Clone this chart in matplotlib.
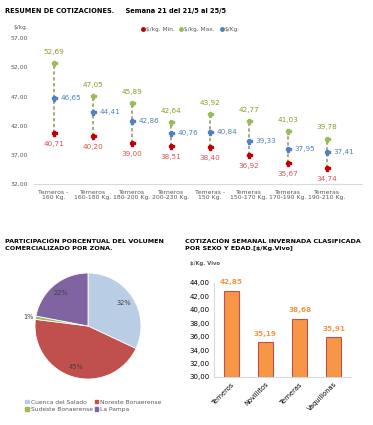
import matplotlib.pyplot as plt
from matplotlib.patches import Patch
from matplotlib.lines import Line2D

# resumen de cotizaciones
categorias = ["Terneros -\n160 Kg.", "Terneros\n160-180 Kg.", "Terneros\n180-200 Kg.",
              "Terneros\n200-230 Kg.", "Temeras -\n150 Kg.", "Temeras\n150-170 Kg.",
              "Temeras\n170-190 Kg.", "Temeras\n190-210 Kg."]
precio_min = [40.71, 40.20, 39.00, 38.51, 38.40, 36.92, 35.67, 34.74]
precio_max = [52.69, 47.05, 45.89, 42.64, 43.92, 42.77, 41.03, 39.78]
precio_prom = [46.65, 44.41, 42.86, 40.76, 40.84, 39.33, 37.95, 37.41]

# participacion por zona
zonas = ["Cuenca del Salado", "Noreste Bonaerense", "Sudeste Bonaerense", "La Pampa"]
porcentajes = [32, 45, 1, 22]
colores_zona = ["#b9cde5", "#c0504d", "#9bbb59", "#8064a2"]

# invernada por sexo y edad
clases = ["Terneros", "Novillitos", "Terneras", "Vaquillonas"]
cotizacion = [42.85, 35.19, 38.68, 35.91]


def coma(v):
    return f"{v:.2f}".replace(".", ",")


fig = plt.figure(figsize=(3.73, 4.25), dpi=100)
W, H = 373, 425

def pos(x0, y0, x1, y1):
    return [x0 / W, 1 - y1 / H, (x1 - x0) / W, (y1 - y0) / H]

gris = "#595959"
rojo, verde, azul = "#c00000", "#9bbb59", "#4f81bd"

# ---------- grafico superior ----------
fig.text(5 / W, 1 - 11 / H, "RESUMEN DE COTIZACIONES.     Semana 21 del 21/5 al 25/5",
         fontsize=4.8, fontweight="bold", va="center")
fig.text(14 / W, 1 - 27 / H, "$/kg.", fontsize=4.2, color=gris, va="center")

ax = fig.add_axes(pos(34, 38, 362, 184))
x = range(len(categorias))
for i in x:
    ax.plot([i, i], [precio_min[i], precio_max[i]], color="#9c9a6c", lw=1.2,
            ls=(0, (2, 1.5)), zorder=1)
ax.plot(x, precio_min, "P", color=rojo, ms=3.6, ls="none", zorder=3)
ax.plot(x, precio_max, "P", color=verde, ms=3.6, ls="none", zorder=3)
ax.plot(x, precio_prom, "P", color=azul, ms=3.6, ls="none", zorder=3)
for i in x:
    ax.annotate(coma(precio_max[i]), (i, precio_max[i]), xytext=(0, 8), textcoords="offset points",
                ha="center", va="center", fontsize=5.2, color="#8c9a2a")
    ax.annotate(coma(precio_min[i]), (i, precio_min[i]), xytext=(0, -8), textcoords="offset points",
                ha="center", va="center", fontsize=5.2, color="#d9534f")
    ax.annotate(coma(precio_prom[i]), (i, precio_prom[i]), xytext=(5, 0), textcoords="offset points",
                ha="left", va="center", fontsize=5.2, color=azul)
ax.set_xlim(-0.5, 7.9)
ax.set_ylim(32, 57)
ax.set_yticks([32, 37, 42, 47, 52, 57])
ax.set_yticklabels([coma(v) for v in [32, 37, 42, 47, 52, 57]])
ax.set_xticks(list(x))
ax.set_xticklabels(categorias, linespacing=1.1)
ax.tick_params(length=0, labelsize=4.4, colors=gris, pad=4)
for s in ["top", "right", "left"]:
    ax.spines[s].set_visible(False)
ax.spines["bottom"].set_color("#d9d9d9")

leg_h = [Line2D([], [], marker="o", color=c, ls="none", ms=2.5) for c in (rojo, verde, azul)]
fig.legend(leg_h, ["$/kg. Min.", "$/kg. Max.", "$/Kg."], loc="center left",
           bbox_to_anchor=(135 / W, 1 - 29 / H), ncol=3, frameon=False, fontsize=4.2,
           handletextpad=0.1, columnspacing=0.8, handlelength=0.8, labelcolor=gris)

# ---------- torta ----------
fig.text(5 / W, 1 - 245 / H, "PARTICIPACIÓN PORCENTUAL DEL VOLUMEN\nCOMERCIALIZADO POR ZONA.",
         fontsize=4.6, fontweight="bold", va="center", linespacing=1.35)
axp = fig.add_axes(pos(35, 273, 141, 379))
wedges, _, autotexts = axp.pie(porcentajes, colors=colores_zona, startangle=90, counterclock=False,
                               autopct="%1.0f%%", pctdistance=0.8,
                               wedgeprops=dict(edgecolor="white", linewidth=0.6),
                               textprops=dict(fontsize=4.8, color="#404040"))
for t, p in zip(autotexts, porcentajes):
    if p < 5:
        px, py = t.get_position()
        t.set_position((px * 1.42, py * 1.42))
axp.set_xlim(-1, 1)
axp.set_ylim(-1, 1)
axp.set_aspect("equal")

fig.legend([Patch(color=c) for c in [colores_zona[0], colores_zona[2], colores_zona[1], colores_zona[3]]],
           [zonas[0], zonas[2], zonas[1], zonas[3]], loc="center left",
           bbox_to_anchor=(20 / W, 1 - 406 / H), ncol=2, frameon=False, fontsize=4.3,
           handlelength=0.6, handleheight=0.6, handletextpad=0.3, columnspacing=0.3,
           labelspacing=0.45, labelcolor=gris)

# ---------- barras ----------
fig.text(185 / W, 1 - 245 / H, "COTIZACIÓN SEMANAL INVERNADA CLASIFICADA\nPOR SEXO Y EDAD.[$/Kg.Vivo]",
         fontsize=4.6, fontweight="bold", va="center", linespacing=1.35)
fig.text(190 / W, 1 - 263 / H, "$/Kg. Vivo", fontsize=3.8, fontweight="bold", color=gris, va="center")

axb = fig.add_axes(pos(214, 283, 351, 377))
bars = axb.bar(range(len(clases)), [v - 30 for v in cotizacion], bottom=30, width=0.44,
               color="#f79646", edgecolor="#c0504d", linewidth=0.8)
for i, v in enumerate(cotizacion):
    axb.annotate(coma(v), (i, v), xytext=(0, 6), textcoords="offset points", ha="center",
                 va="center", fontsize=5.2, color="#f79646", fontweight="bold", annotation_clip=False)
axb.set_xlim(-0.5, 3.5)
axb.set_ylim(30, 44)
axb.set_yticks(range(30, 45, 2))
axb.set_yticklabels([coma(v) for v in range(30, 45, 2)])
axb.set_xticks(range(len(clases)))
axb.set_xticklabels(clases, rotation=45, ha="right", rotation_mode="anchor")
axb.tick_params(axis="y", length=0, labelsize=5, pad=3)
axb.tick_params(axis="x", length=0, labelsize=4.8, pad=3)
for s in ["top", "right"]:
    axb.spines[s].set_visible(False)
axb.spines["left"].set_color("#d9d9d9")
axb.spines["bottom"].set_color("#d9d9d9")

fig.savefig("out.png", dpi=100)
